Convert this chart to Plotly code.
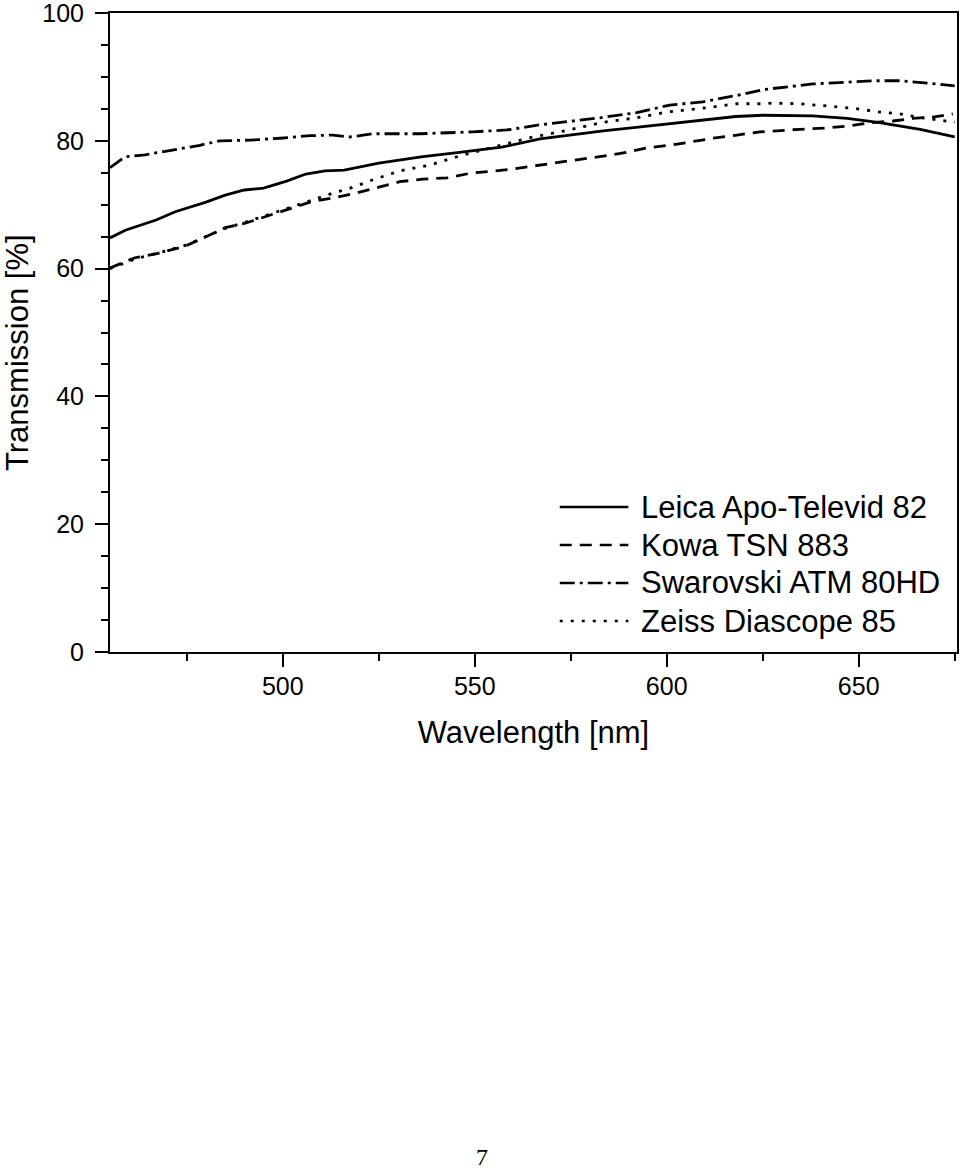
import plotly.graph_objects as go

# wavelength [nm] / transmission [%]
leica_wl = [455, 459, 467, 472, 480, 485, 490, 495, 501, 506, 511, 516, 525,
            536, 546, 557, 567, 576, 584, 592, 601, 610, 618, 625, 638, 647,
            655, 666, 675]
leica_t = [64.8, 66.0, 67.6, 68.9, 70.4, 71.5, 72.3, 72.6, 73.7, 74.8, 75.3,
           75.4, 76.5, 77.5, 78.2, 79.0, 80.3, 81.0, 81.6, 82.1, 82.7, 83.2,
           83.8, 84.0, 83.9, 83.5, 82.9, 81.8, 80.6]

kowa_wl = [455, 461.5, 467.5, 474.5, 479.7, 485, 490.2, 495.4, 502.4, 507.6,
           514.4, 518.3, 525.3, 530.5, 536.5, 542.8, 549.5, 554, 560, 566.2,
           571.4, 577.4, 583.4, 589.6, 594.8, 600.8, 606, 612, 618.3, 624.3,
           634.7, 641.7, 646.9, 652.9, 658.9, 664.1, 669.3, 674.5]
kowa_t = [60.1, 61.7, 62.4, 63.5, 64.9, 66.4, 67.1, 68.1, 69.5, 70.5, 71.2,
          71.7, 72.8, 73.6, 74.0, 74.2, 75.0, 75.2, 75.6, 76.1, 76.5, 77.1,
          77.6, 78.2, 78.9, 79.3, 79.8, 80.4, 80.9, 81.4, 81.8, 82.0, 82.3,
          82.8, 83.1, 83.5, 83.7, 84.2]

swar_wl = [455, 458.9, 464.1, 471.9, 478.4, 483.6, 491.5, 499.3, 507.1, 513.1,
           517.5, 523.5, 535.7, 549.5, 558.4, 567, 575.6, 582.6, 592.2, 600.8,
           609.4, 618.3, 625, 638.1, 653.7, 660.7, 668.5, 675]
swar_t = [75.8, 77.5, 77.8, 78.6, 79.3, 80.0, 80.1, 80.4, 80.8, 80.9, 80.6,
          81.1, 81.1, 81.4, 81.7, 82.5, 83.1, 83.6, 84.4, 85.6, 86.1, 87.1,
          88.0, 88.9, 89.4, 89.4, 89.0, 88.6]

zeiss_wl = [455, 462, 468, 475, 480, 485, 490, 495, 502, 508, 514, 517.2,
            523.5, 530.5, 538.3, 545.3, 552.1, 558.4, 565.1, 572.2, 577.4,
            583.4, 592.2, 600, 609.4, 618.3, 625, 627.6, 634.7, 641.7, 648.4,
            655.5, 660.7, 666.7, 673, 675]
zeiss_t = [60.0, 61.6, 62.5, 63.7, 65.0, 66.3, 67.2, 68.2, 69.6, 70.7, 72.0,
           72.5, 73.9, 75.3, 76.2, 77.5, 78.6, 79.5, 80.6, 81.4, 82.1, 82.9,
           83.6, 84.5, 85.1, 85.8, 85.8, 85.9, 85.8, 85.4, 85.1, 84.5, 84.2,
           83.6, 83.1, 82.9]

names = ["Leica Apo-Televid 82", "Kowa TSN 883",
         "Swarovski ATM 80HD", "Zeiss Diascope 85"]
dashes = ["solid", "12px,8px", "15px,5px,3px,5px", "3px,8px"]

FONT = "Liberation Sans, Arial, sans-serif"

fig = go.Figure()
series = [(leica_wl, leica_t), (kowa_wl, kowa_t),
          (swar_wl, swar_t), (zeiss_wl, zeiss_t)]
for (wl, t), name, dash in zip(series, names, dashes):
    fig.add_trace(go.Scatter(x=wl, y=t, mode="lines", name=name,
                             line=dict(color="black", width=2.8, dash=dash)))

# hand-made legend (long line samples like the original)
row_y = [0.2269, 0.1674, 0.1080, 0.0485]
for name, dash, yy in zip(names, dashes, row_y):
    fig.add_shape(type="line", xref="paper", yref="paper",
                  x0=0.531, x1=0.612, y0=yy, y1=yy,
                  line=dict(color="black", width=2.4, dash=dash))
    fig.add_annotation(text=name, xref="paper", yref="paper", x=0.624, y=yy,
                       xanchor="left", yanchor="middle", showarrow=False,
                       font=dict(size=31, color="black", family=FONT))

# y title placed by hand (sits a little below the axis centre)
fig.add_annotation(text="Transmission [%]", xref="paper", yref="paper",
                   x=-0.109, y=0.469, textangle=-90, showarrow=False,
                   xanchor="center", yanchor="middle",
                   font=dict(size=31, color="black", family=FONT))

# page number
fig.add_annotation(text="7", xref="paper", yref="paper", x=0.439, y=-0.79,
                   showarrow=False, xanchor="center", yanchor="middle",
                   font=dict(size=24, color="black",
                             family="Liberation Serif, Times New Roman, serif"))

fig.update_xaxes(range=[455, 675.6], tickvals=[500, 550, 600, 650],
                 ticks="outside", ticklen=13, tickwidth=2, tickcolor="black",
                 minor=dict(dtick=25, tick0=475, ticks="outside", ticklen=7,
                            tickwidth=2, tickcolor="black"),
                 showline=True, linewidth=2, linecolor="black", mirror=True,
                 showgrid=False, zeroline=False, ticklabelstandoff=-2,
                 automargin=False, ticklabeloverflow="allow",
                 tickfont=dict(size=25, color="black", family=FONT),
                 title=dict(text="Wavelength [nm]", standoff=22,
                            font=dict(size=31, color="black", family=FONT)))
fig.update_yaxes(range=[0, 100], tickvals=[0, 20, 40, 60, 80, 100],
                 ticks="outside", ticklen=13, tickwidth=2, tickcolor="black",
                 minor=dict(dtick=5, ticks="outside", ticklen=7,
                            tickwidth=2, tickcolor="black"),
                 showline=True, linewidth=2, linecolor="black", mirror=True,
                 showgrid=False, zeroline=False, ticklabelstandoff=6,
                 automargin=False, ticklabeloverflow="allow",
                 tickfont=dict(size=25, color="black", family=FONT))

fig.update_layout(width=960, height=1171, showlegend=False,
                  plot_bgcolor="white", paper_bgcolor="white",
                  margin=dict(l=110, r=3, t=13, b=519),
                  font=dict(family=FONT, color="black"))

# drop the default 8px body margin so the page lines up with the window
fig.write_html("out.html", config={"displayModeBar": False},
               post_script="document.body.style.margin='0';"
                           "document.body.style.overflow='hidden';")
